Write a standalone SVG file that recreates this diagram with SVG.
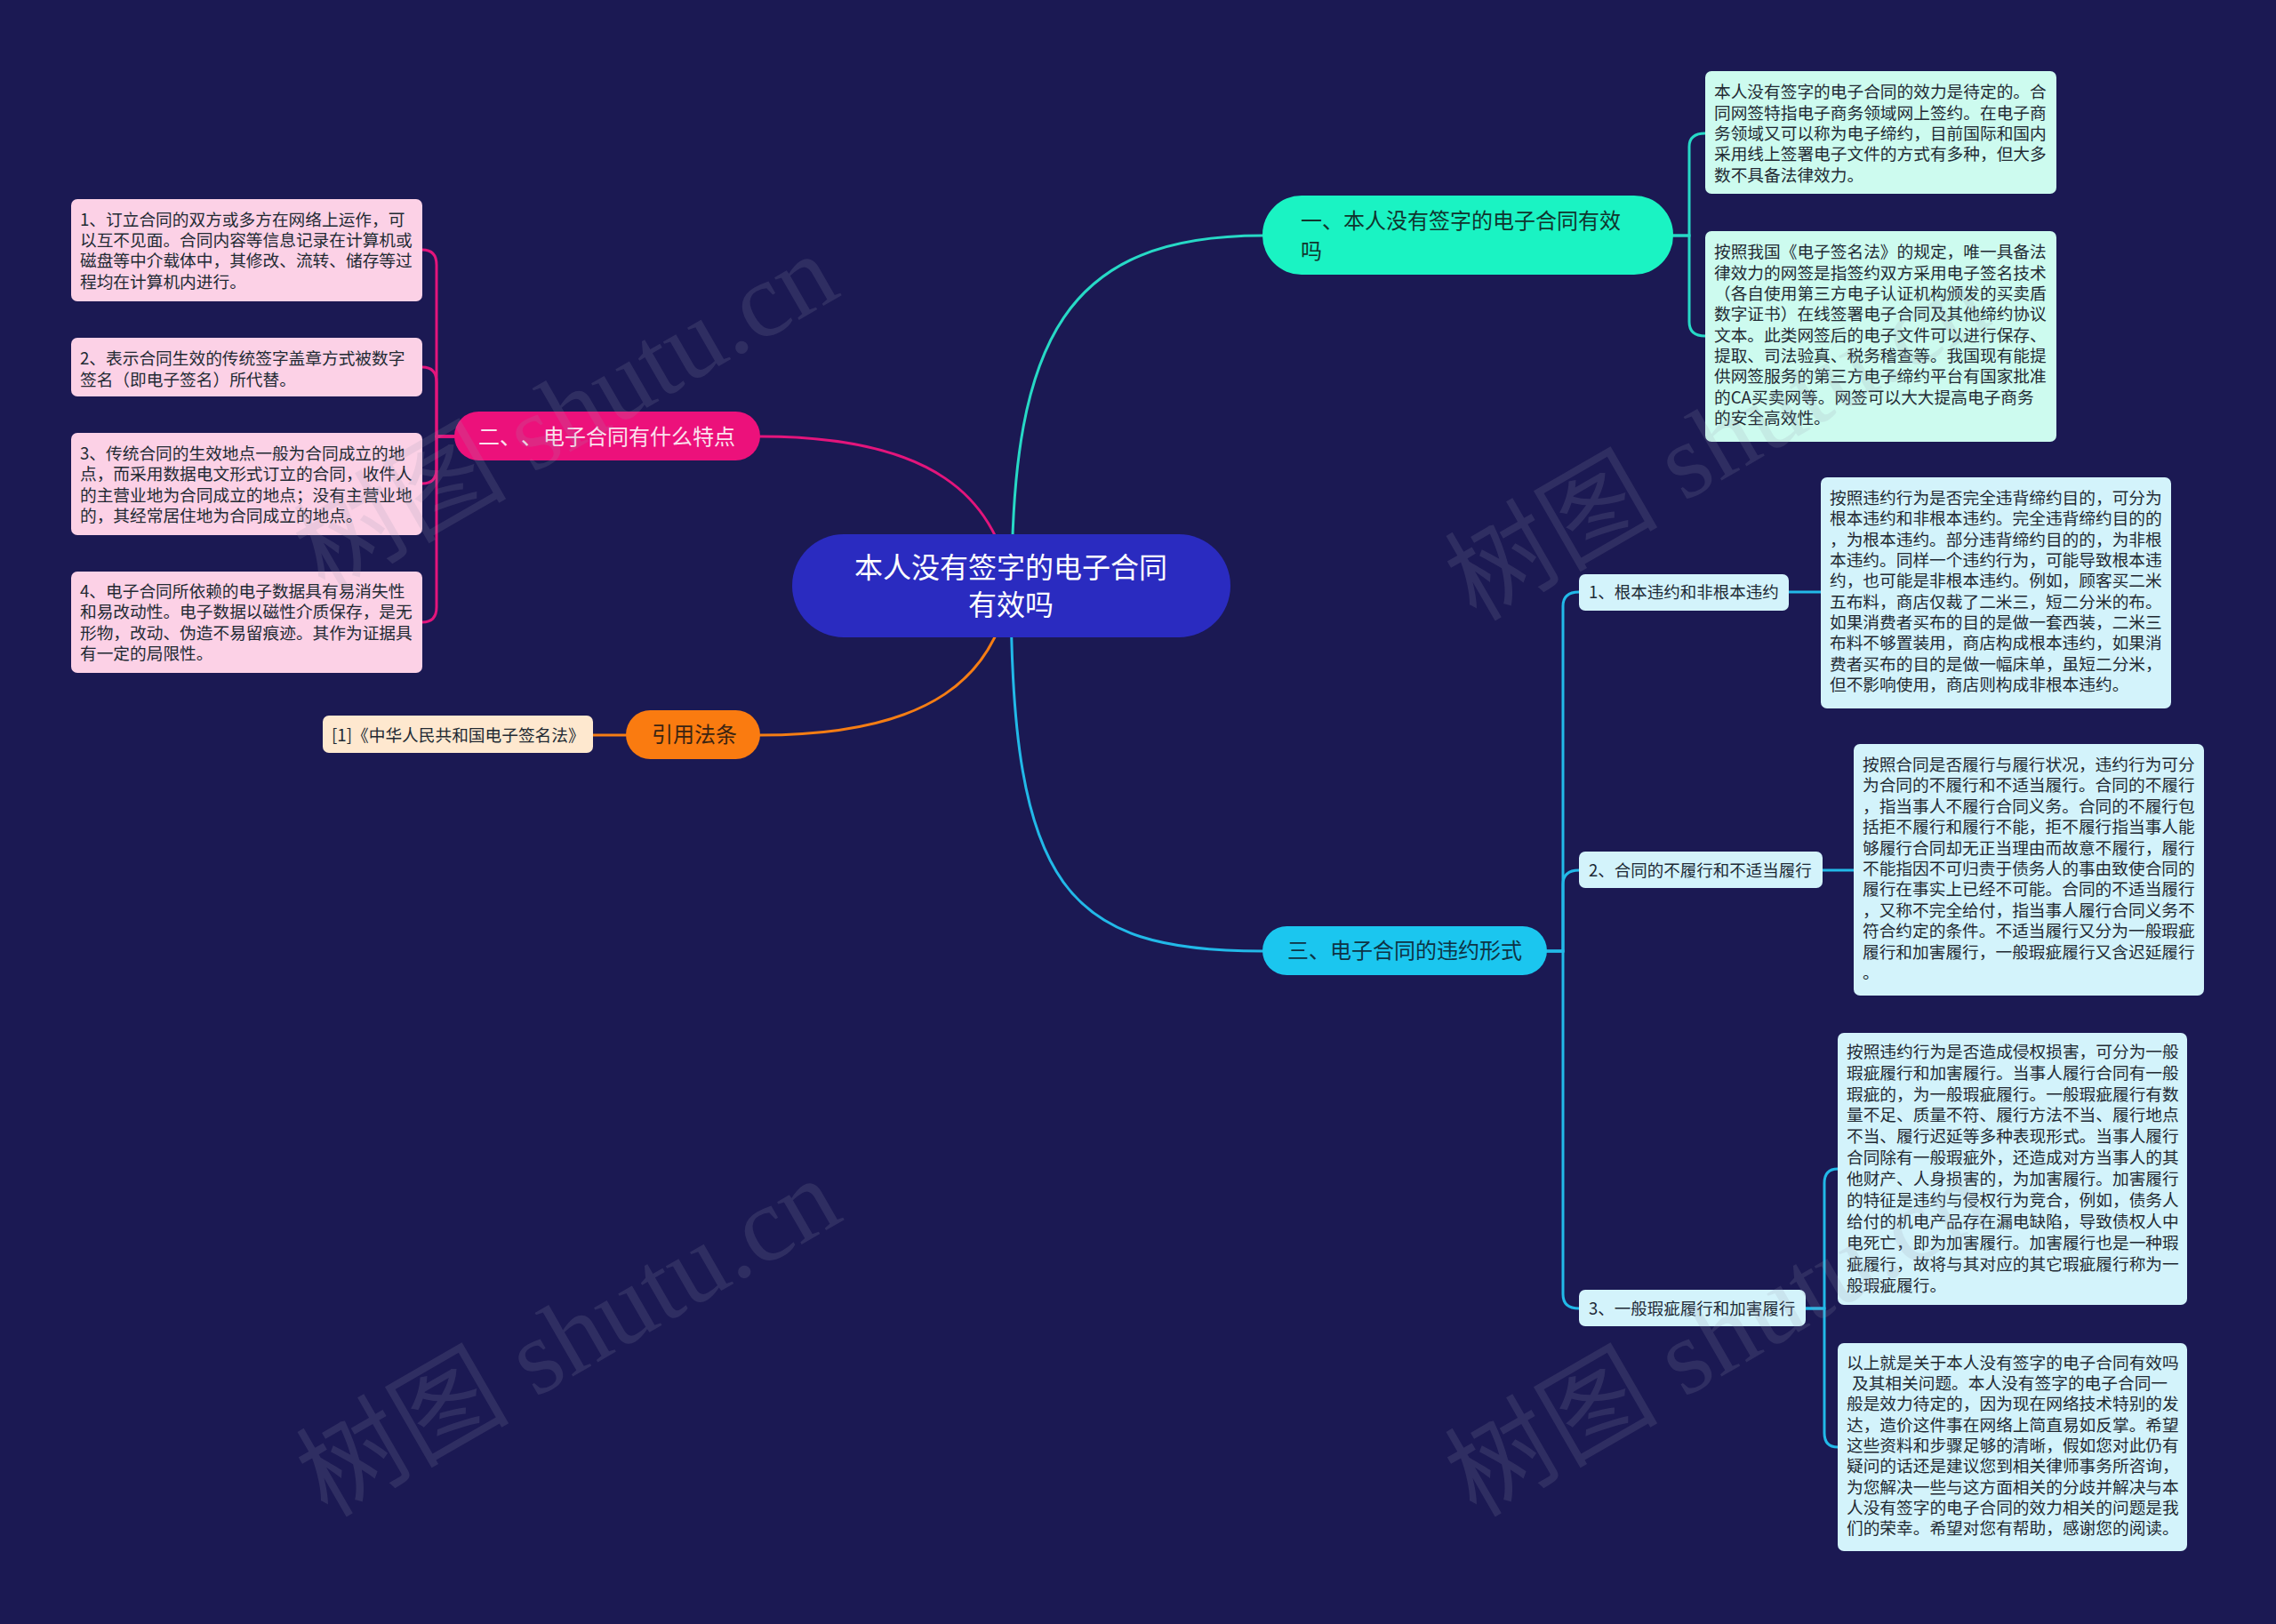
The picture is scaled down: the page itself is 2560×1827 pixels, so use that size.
<svg xmlns="http://www.w3.org/2000/svg" width="2560" height="1827" viewBox="0 0 2560 1827">
<style>
text{font-family:"Noto Sans CJK SC","Noto Sans",sans-serif}
.leaf{font-size:18.7px;fill:#222a33}
.sub{font-size:18.5px;fill:#1d2a36}
.br{font-size:24px}
.c{fill:none;stroke-width:3;stroke-linecap:round}
.wm{font-family:"Liberation Serif","Noto Sans CJK SC",serif;font-size:120px;fill:#9a9ab0;opacity:.16}
</style>
<rect width="2560" height="1827" fill="#1b1953"/>
<g id="connectors">
<path class="c" stroke="#27d9c6" d="M1138 659 C1138 380 1200 265 1420 265"/>
<path class="c" stroke="#27d9c6" d="M1882 265 H1900 V165 Q1900 150 1918 150"/>
<path class="c" stroke="#27d9c6" d="M1882 265 H1900 V362 Q1900 378 1918 378"/>
<path class="c" stroke="#e3157c" d="M1137 659 C1120 560 1050 491 855 491"/>
<path class="c" stroke="#e3157c" d="M511 491 H491 V298 Q491 281 475 281"/>
<path class="c" stroke="#e3157c" d="M511 491 H491 V430 Q491 413 475 413"/>
<path class="c" stroke="#e3157c" d="M511 491 H491 V527 Q491 544 475 544"/>
<path class="c" stroke="#e3157c" d="M511 491 H491 V683 Q491 700 475 700"/>
<path class="c" stroke="#f57d14" d="M1137 659 C1120 760 1050 827 855 827"/>
<path class="c" stroke="#f57d14" d="M704 827 H667"/>
<path class="c" stroke="#22b9e8" d="M1137 659 C1137 1000 1200 1070 1420 1070"/>
<path class="c" stroke="#22b9e8" d="M1740 1070 H1758 V682 Q1758 666 1776 666"/>
<path class="c" stroke="#22b9e8" d="M1740 1070 H1758 V995 Q1758 979 1776 979"/>
<path class="c" stroke="#22b9e8" d="M1740 1070 H1758 V1456 Q1758 1472 1776 1472"/>
<path class="c" stroke="#22b9e8" d="M2012 666 H2048"/>
<path class="c" stroke="#22b9e8" d="M2050 979 H2085"/>
<path class="c" stroke="#22b9e8" d="M2031 1472 H2052 V1331 Q2052 1315 2067 1315"/>
<path class="c" stroke="#22b9e8" d="M2031 1472 H2052 V1612 Q2052 1628 2067 1628"/>
</g>
<g id="root">
<rect x="891" y="601" width="493" height="116" rx="58" fill="#2a2bc0"/>
<text x="1137" y="650" text-anchor="middle" font-size="32" fill="#ffffff">本人没有签字的电子合同</text>
<text x="1137" y="692" text-anchor="middle" font-size="32" fill="#ffffff">有效吗</text>
</g>
<g id="branch1">
<rect x="1420" y="220" width="462" height="89" rx="44" fill="#1af3c3"/>
<text class="br" x="1463" y="257" fill="#10352e">一、本人没有签字的电子合同有效</text>
<text class="br" x="1463" y="291" fill="#10352e">吗</text>
</g>
<g id="leaf1a">
<rect x="1918" y="80" width="395" height="138" rx="7" fill="#cdfbef"/>
<text class="leaf" x="1928"><tspan x="1928" y="110">本人没有签字的电子合同的效力是待定的。合</tspan><tspan x="1928" y="134">同网签特指电子商务领域网上签约。在电子商</tspan><tspan x="1928" y="157">务领域又可以称为电子缔约，目前国际和国内</tspan><tspan x="1928" y="180">采用线上签署电子文件的方式有多种，但大多</tspan><tspan x="1928" y="204">数不具备法律效力。</tspan></text>
</g>
<g id="leaf1b">
<rect x="1918" y="260" width="395" height="237" rx="7" fill="#cdfbef"/>
<text class="leaf"><tspan x="1928" y="290">按照我国《电子签名法》的规定，唯一具备法</tspan><tspan x="1928" y="314">律效力的网签是指签约双方采用电子签名技术</tspan><tspan x="1928" y="337">（各自使用第三方电子认证机构颁发的买卖盾</tspan><tspan x="1928" y="360">数字证书）在线签署电子合同及其他缔约协议</tspan><tspan x="1928" y="384">文本。此类网签后的电子文件可以进行保存、</tspan><tspan x="1928" y="407">提取、司法验真、税务稽查等。我国现有能提</tspan><tspan x="1928" y="430">供网签服务的第三方电子缔约平台有国家批准</tspan><tspan x="1928" y="454">的CA买卖网等。网签可以大大提高电子商务</tspan><tspan x="1928" y="477">的安全高效性。</tspan></text>
</g>
<g id="branch2">
<rect x="511" y="463" width="344" height="55" rx="27.5" fill="#ec117b"/>
<text class="br" y="500" fill="#fbe1ee"><tspan x="538">二、</tspan><tspan x="586">、</tspan><tspan x="611">电子合同有什么特点</tspan></text>
</g>
<g id="leaf2a">
<rect x="80" y="224" width="395" height="115" rx="7" fill="#fcd1e6"/>
<text class="leaf"><tspan x="90" y="254">1、订立合同的双方或多方在网络上运作，可</tspan><tspan x="90" y="277">以互不见面。合同内容等信息记录在计算机或</tspan><tspan x="90" y="300">磁盘等中介载体中，其修改、流转、储存等过</tspan><tspan x="90" y="324">程均在计算机内进行。</tspan></text>
</g>
<g id="leaf2b">
<rect x="80" y="380" width="395" height="66" rx="7" fill="#fcd1e6"/>
<text class="leaf"><tspan x="90" y="410">2、表示合同生效的传统签字盖章方式被数字</tspan><tspan x="90" y="434">签名（即电子签名）所代替。</tspan></text>
</g>
<g id="leaf2c">
<rect x="80" y="487" width="395" height="115" rx="7" fill="#fcd1e6"/>
<text class="leaf"><tspan x="90" y="517">3、传统合同的生效地点一般为合同成立的地</tspan><tspan x="90" y="540">点，而采用数据电文形式订立的合同，收件人</tspan><tspan x="90" y="564">的主营业地为合同成立的地点；没有主营业地</tspan><tspan x="90" y="587">的，其经常居住地为合同成立的地点。</tspan></text>
</g>
<g id="leaf2d">
<rect x="80" y="643" width="395" height="114" rx="7" fill="#fcd1e6"/>
<text class="leaf"><tspan x="90" y="672">4、电子合同所依赖的电子数据具有易消失性</tspan><tspan x="90" y="695">和易改动性。电子数据以磁性介质保存，是无</tspan><tspan x="90" y="719">形物，改动、伪造不易留痕迹。其作为证据具</tspan><tspan x="90" y="742">有一定的局限性。</tspan></text>
</g>
<g id="branch-law">
<rect x="704" y="799" width="151" height="55" rx="27.5" fill="#fa7b10"/>
<text class="br" x="733" y="835" fill="#3a2412">引用法条</text>
</g>
<g id="leaf-law">
<rect x="363" y="805" width="304" height="42" rx="7" fill="#fee8cf"/>
<text class="leaf" x="373" y="834">[1]《中华人民共和国电子签名法》</text>
</g>
<g id="branch3">
<rect x="1420" y="1042" width="320" height="55" rx="27.5" fill="#1bc6ef"/>
<text class="br" x="1448" y="1078" fill="#0e3344">三、电子合同的违约形式</text>
</g>
<g id="sub3a">
<rect x="1776" y="646" width="236" height="41" rx="7" fill="#d3f3fb"/>
<text class="sub" x="1787" y="673">1、根本违约和非根本违约</text>
</g>
<g id="sub3b">
<rect x="1776" y="958" width="274" height="41" rx="7" fill="#d3f3fb"/>
<text class="sub" x="1787" y="986">2、合同的不履行和不适当履行</text>
</g>
<g id="sub3c">
<rect x="1776" y="1451" width="255" height="41" rx="7" fill="#d3f3fb"/>
<text class="sub" x="1787" y="1479">3、一般瑕疵履行和加害履行</text>
</g>
<g id="leaf3a">
<rect x="2048" y="537" width="394" height="260" rx="7" fill="#d3f3fb"/>
<text class="leaf"><tspan x="2058" y="567">按照违约行为是否完全违背缔约目的，可分为</tspan><tspan x="2058" y="590">根本违约和非根本违约。完全违背缔约目的的</tspan><tspan x="2058" y="614">，为根本违约。部分违背缔约目的的，为非根</tspan><tspan x="2058" y="637">本违约。同样一个违约行为，可能导致根本违</tspan><tspan x="2058" y="660">约，也可能是非根本违约。例如，顾客买二米</tspan><tspan x="2058" y="684">五布料，商店仅裁了二米三，短二分米的布。</tspan><tspan x="2058" y="707">如果消费者买布的目的是做一套西装，二米三</tspan><tspan x="2058" y="730">布料不够置装用，商店构成根本违约，如果消</tspan><tspan x="2058" y="754">费者买布的目的是做一幅床单，虽短二分米，</tspan><tspan x="2058" y="777">但不影响使用，商店则构成非根本违约。</tspan></text>
</g>
<g id="leaf3b">
<rect x="2085" y="837" width="394" height="283" rx="7" fill="#d3f3fb"/>
<text class="leaf"><tspan x="2095" y="867">按照合同是否履行与履行状况，违约行为可分</tspan><tspan x="2095" y="890">为合同的不履行和不适当履行。合同的不履行</tspan><tspan x="2095" y="914">，指当事人不履行合同义务。合同的不履行包</tspan><tspan x="2095" y="937">括拒不履行和履行不能，拒不履行指当事人能</tspan><tspan x="2095" y="961">够履行合同却无正当理由而故意不履行，履行</tspan><tspan x="2095" y="984">不能指因不可归责于债务人的事由致使合同的</tspan><tspan x="2095" y="1007">履行在事实上已经不可能。合同的不适当履行</tspan><tspan x="2095" y="1031">，又称不完全给付，指当事人履行合同义务不</tspan><tspan x="2095" y="1054">符合约定的条件。不适当履行又分为一般瑕疵</tspan><tspan x="2095" y="1078">履行和加害履行，一般瑕疵履行又含迟延履行</tspan><tspan x="2095" y="1101">。</tspan></text>
</g>
<g id="leaf3c">
<rect x="2067" y="1162" width="393" height="306" rx="7" fill="#d3f3fb"/>
<text class="leaf"><tspan x="2077" y="1190">按照违约行为是否造成侵权损害，可分为一般</tspan><tspan x="2077" y="1214">瑕疵履行和加害履行。当事人履行合同有一般</tspan><tspan x="2077" y="1238">瑕疵的，为一般瑕疵履行。一般瑕疵履行有数</tspan><tspan x="2077" y="1261">量不足、质量不符、履行方法不当、履行地点</tspan><tspan x="2077" y="1285">不当、履行迟延等多种表现形式。当事人履行</tspan><tspan x="2077" y="1309">合同除有一般瑕疵外，还造成对方当事人的其</tspan><tspan x="2077" y="1333">他财产、人身损害的，为加害履行。加害履行</tspan><tspan x="2077" y="1357">的特征是违约与侵权行为竞合，例如，债务人</tspan><tspan x="2077" y="1381">给付的机电产品存在漏电缺陷，导致债权人中</tspan><tspan x="2077" y="1405">电死亡，即为加害履行。加害履行也是一种瑕</tspan><tspan x="2077" y="1429">疵履行，故将与其对应的其它瑕疵履行称为一</tspan><tspan x="2077" y="1453">般瑕疵履行。</tspan></text>
</g>
<g id="leaf3d">
<rect x="2067" y="1511" width="393" height="234" rx="7" fill="#d3f3fb"/>
<text class="leaf"><tspan x="2077" y="1540">以上就是关于本人没有签字的电子合同有效吗</tspan><tspan x="2083" y="1563">及其相关问题。本人没有签字的电子合同一</tspan><tspan x="2077" y="1586">般是效力待定的，因为现在网络技术特别的发</tspan><tspan x="2077" y="1610">达，造价这件事在网络上简直易如反掌。希望</tspan><tspan x="2077" y="1633">这些资料和步骤足够的清晰，假如您对此仍有</tspan><tspan x="2077" y="1656">疑问的话还是建议您到相关律师事务所咨询，</tspan><tspan x="2077" y="1680">为您解决一些与这方面相关的分歧并解决与本</tspan><tspan x="2077" y="1703">人没有签字的电子合同的效力相关的问题是我</tspan><tspan x="2077" y="1726">们的荣幸。希望对您有帮助，感谢您的阅读。</tspan></text>
</g>
<g id="watermarks">
<text class="wm" transform="translate(365 668) rotate(-30)">树图 shutu.cn</text>
<text class="wm" transform="translate(1660 700) rotate(-30)">树图 shutu.cn</text>
<text class="wm" transform="translate(368 1708) rotate(-30)">树图 shutu.cn</text>
<text class="wm" transform="translate(1660 1708) rotate(-30)">树图 shutu.cn</text>
</g>
</svg>
